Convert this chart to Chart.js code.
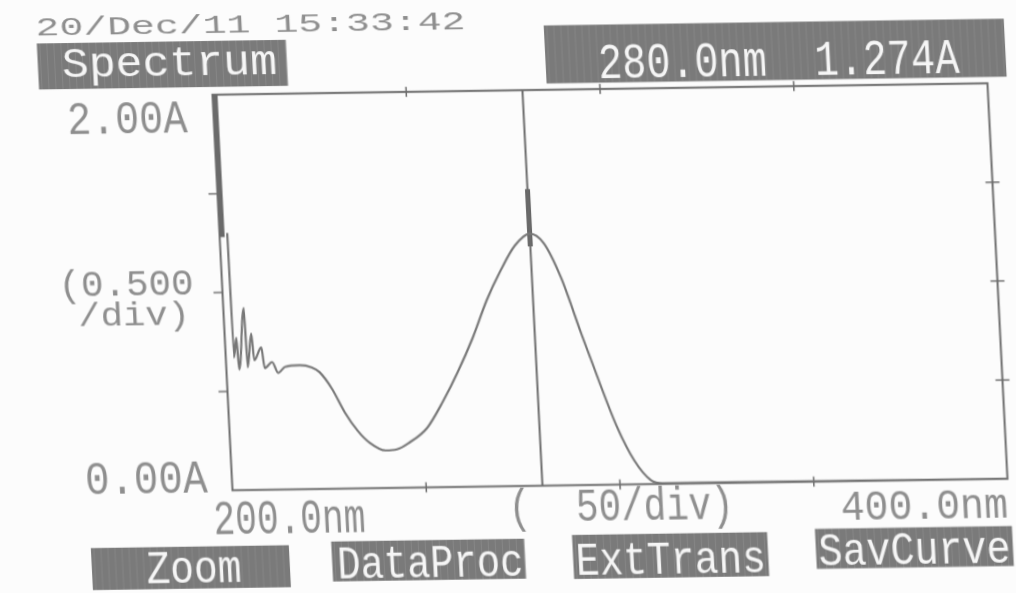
<!DOCTYPE html>
<html>
<head>
<meta charset="utf-8">
<title>Spectrum</title>
<script src="https://cdn.jsdelivr.net/npm/chart.js@4.4.1/dist/chart.umd.min.js"></script>
<style>
  html, body { margin: 0; padding: 0; background: #fcfcfc; overflow: hidden; }
  #spectrum {
    position: absolute; left: 0; top: 0;
    transform-origin: 0 0;
    /* the printed sheet lies a little askew */
    transform: matrix(1, -0.0148, 0.0506, 1, 0, 0);
  }
</style>
</head>
<body>
<canvas id="spectrum" width="1016" height="593"></canvas>
<script>
// scanned absorbance trace, nm / A
const wavelengths = [202.0, 202.1, 203.0, 203.3, 205.3, 205.5, 206.9, 207.3, 209.3, 209.9,
  211.9, 213.3, 215.2, 219.0, 222.0, 224.0, 227.0, 230.0, 233.0, 236.0,
  240.0, 243.0, 246.0, 251.0, 255.5, 259.5, 264.0, 268.0, 272.0, 276.0,
  280.0, 283.5, 287.5, 292.0, 296.0, 300.0, 304.0, 308.0, 311.0, 330.0, 360.0, 400.0];
const absorbance = [1.30, 0.67, 0.77, 0.61, 0.92, 0.62, 0.79, 0.655, 0.72, 0.615,
  0.645, 0.59, 0.62, 0.627, 0.615, 0.59, 0.505, 0.385, 0.293, 0.23,
  0.19, 0.195, 0.225, 0.30, 0.435, 0.575, 0.755, 0.94, 1.09, 1.215,
  1.274, 1.225, 1.05, 0.765, 0.52, 0.29, 0.12, 0.02, 0.004, 0.003, 0.002, 0.0];

// lamp switch-over region near 200 nm goes off scale
const overRangeNm = 200.4;
const overRangeAbs = [2.0, 1.28];

// cursor
const cursorNm = 280.0;
const cursorAbs = absorbance[wavelengths.indexOf(cursorNm)];
const cursorMark = [1.50, 1.21];

// axes
const xMin = 200, xMax = 400, xStep = 50;
const yMin = 0, yMax = 2, yStep = 0.5;
const xTicks = [250, 300, 350];
const yTicks = [0.5, 1.0, 1.5];

const dateStamp = '20/Dec/11 15:33:42';
const screenTitle = 'Spectrum';
const menuButtons = ['Zoom', 'DataProc', 'ExtTrans', 'SavCurve'];

const ink = '#6c6c6c';
const paleInk = '#8e8e8e';
const boxFill = '#7a7a7a';
const FONT = '"Liberation Mono", "DejaVu Sans Mono", monospace';

// draws text squeezed/stretched to a given width, cap height sets the size
function printText(ctx, text, cx, baseline, width, capH, color) {
  const size = capH / 0.66;
  ctx.save();
  ctx.font = size.toFixed(1) + 'px ' + FONT;
  ctx.fillStyle = color;
  ctx.textAlign = 'center';
  ctx.textBaseline = 'alphabetic';
  const w = ctx.measureText(text).width;
  ctx.translate(cx, baseline);
  ctx.scale(width / w, 1);
  ctx.fillText(text, 0, 0);
  ctx.restore();
}

function printBox(ctx, cx, cy, w, h) {
  ctx.save();
  ctx.fillStyle = boxFill;
  ctx.fillRect(cx - w / 2, cy - h / 2, w, h);
  // faint streaks of the thermal head
  ctx.strokeStyle = 'rgba(255,255,255,0.10)';
  ctx.lineWidth = 1;
  for (let x = cx - w / 2 + 3; x < cx + w / 2; x += 7) {
    ctx.beginPath();
    ctx.moveTo(x, cy - h / 2);
    ctx.lineTo(x, cy + h / 2);
    ctx.stroke();
  }
  ctx.restore();
}

const framePlugin = {
  id: 'frame',
  beforeDatasetsDraw(chart) {
    const { ctx, chartArea: a, scales: { x, y } } = chart;
    ctx.save();
    ctx.strokeStyle = ink;
    ctx.lineWidth = 2;
    ctx.strokeRect(a.left, a.top, a.right - a.left, a.bottom - a.top);
    ctx.lineWidth = 1.5;
    ctx.beginPath();
    xTicks.forEach(v => {
      const px = x.getPixelForValue(v);
      ctx.moveTo(px, a.top - 5); ctx.lineTo(px, a.top + 5);
      ctx.moveTo(px, a.bottom - 5); ctx.lineTo(px, a.bottom + 5);
    });
    yTicks.forEach(v => {
      const py = y.getPixelForValue(v);
      ctx.moveTo(a.left - 9, py); ctx.lineTo(a.left, py);
      ctx.moveTo(a.right - 7, py); ctx.lineTo(a.right + 7, py);
    });
    ctx.stroke();
    ctx.restore();
  },
  afterDraw(chart) {
    const { ctx, scales: { x, y } } = chart;
    const x0 = x.getPixelForValue(xMin), x1 = x.getPixelForValue(xMax);
    const xc = x.getPixelForValue((xMin + xMax) / 2);
    const y0 = y.getPixelForValue(yMin), y1 = y.getPixelForValue(yMax);
    const ym = y.getPixelForValue((yMin + yMax) / 2);

    // header
    printText(ctx, dateStamp, 249, 36, 430, 17, paleInk);
    printBox(ctx, 159, 67, 249, 46);
    printText(ctx, screenTitle, 166, 77.5, 215, 28, '#f6f6f6');
    printBox(ctx, 772, 62.5, 460, 58);
    const readout = cursorNm.toFixed(1) + 'nm  ' + cursorAbs.toFixed(3) + 'A';
    printText(ctx, readout, 775, 86.5, 361, 33, '#f6f6f6');

    // absorbance axis
    printText(ctx, yMax.toFixed(2) + 'A', x0 - 86.5, y1 + 37, 120, 30, paleInk);
    printText(ctx, '(' + yStep.toFixed(3), x0 - 96, ym + 1, 135, 24, paleInk);
    printText(ctx, '/div)', x0 - 89.5, ym + 31, 112, 22, paleInk);
    printText(ctx, yMin.toFixed(2) + 'A', x0 - 85.7, y0 + 2, 122, 30, paleInk);

    // wavelength axis
    printText(ctx, xMin.toFixed(1) + 'nm', x0 + 55.5, y0 + 44, 152, 32, paleInk);
    printText(ctx, '(  ' + xStep + '/div)', xc, y0 + 36, 225, 30, paleInk);
    printText(ctx, xMax.toFixed(1) + 'nm', x1 - 84.5, y0 + 38.4, 167, 28, paleInk);

    // soft keys
    const keys = [
      { cx: 162, cy: 570, w: 198, h: 42, tx: 165, base: 584.5, tw: 95 },
      { cx: 400, cy: 566, w: 193, h: 40, tx: 401.5, base: 583, tw: 186 },
      { cx: 642, cy: 565, w: 195, h: 44, tx: 642, base: 582.5, tw: 190 },
      { cx: 886, cy: 560.5, w: 197, h: 40, tx: 886, base: 576.5, tw: 192 }
    ];
    keys.forEach((k, i) => {
      printBox(ctx, k.cx, k.cy, k.w, k.h);
      printText(ctx, menuButtons[i], k.tx, k.base, k.tw, 30, '#f6f6f6');
    });
  }
};

new Chart(document.getElementById('spectrum'), {
  type: 'scatter',
  data: {
    datasets: [
      {
        label: 'Absorbance',
        data: wavelengths.map((nm, i) => ({ x: nm, y: absorbance[i] })),
        showLine: true,
        borderColor: '#777777',
        borderWidth: 2.2,
        pointRadius: 0,
        cubicInterpolationMode: 'monotone'
      },
      {
        label: 'Over range',
        data: overRangeAbs.map(v => ({ x: overRangeNm, y: v })),
        showLine: true,
        borderColor: '#6a6a6a',
        borderWidth: 7,
        pointRadius: 0
      },
      {
        label: 'Cursor',
        data: [{ x: cursorNm, y: yMin }, { x: cursorNm, y: yMax }],
        showLine: true,
        borderColor: ink,
        borderWidth: 2,
        pointRadius: 0
      },
      {
        label: 'Cursor mark',
        data: cursorMark.map(v => ({ x: cursorNm, y: v })),
        showLine: true,
        borderColor: '#666666',
        borderWidth: 5,
        pointRadius: 0
      }
    ]
  },
  options: {
    responsive: false,
    animation: false,
    events: [],
    layout: { padding: { left: 207.5, top: 97.8, right: 33.5, bottom: 99.7 } },
    plugins: { legend: { display: false }, tooltip: { enabled: false } },
    scales: {
      x: { type: 'linear', min: xMin, max: xMax, display: false },
      y: { type: 'linear', min: yMin, max: yMax, display: false }
    }
  },
  plugins: [framePlugin]
});
</script>
</body>
</html>
